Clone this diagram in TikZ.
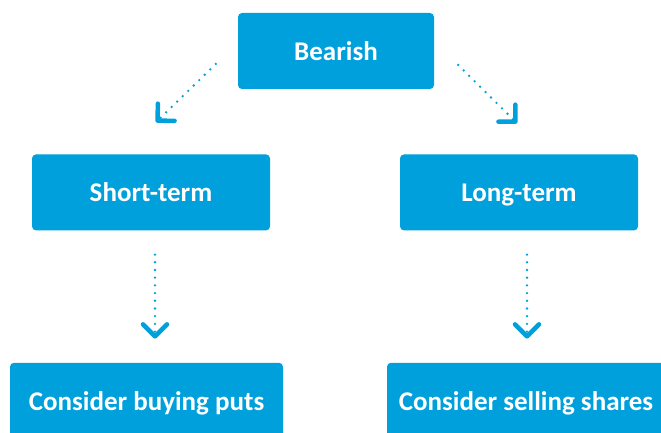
\documentclass[tikz,border=0pt]{standalone}
\usepackage{fontspec}
\setmainfont{Carlito}
\usetikzlibrary{positioning}
\usetikzlibrary{arrows.meta}
\definecolor{boxblue}{RGB}{0,160,220}

\begin{document}
\begin{tikzpicture}[x=1pt, y=1pt,
    BOX/.style={rectangle, rounded corners=4pt, fill=boxblue, text=white, minimum height=76pt, inner sep=0pt, font=\fontsize{27}{32}\selectfont\bfseries, text height=23pt, text depth=4pt},
    LINK/.style={boxblue, line width=2.6pt, line cap=round, dash pattern=on 0pt off 7.7pt, -{Straight Barb[length=12pt, width=24pt, line width=4.5pt, round]}},
    ]
        \useasboundingbox (0,0) rectangle (661,433);
        \node[BOX, minimum width=196pt] (bearish) at (336,382) {Bearish};

        \node[BOX, minimum width=238pt, below=65pt of bearish, xshift=-185pt] (short) {Short-term};
        \node[BOX, minimum width=238pt, below=65pt of bearish, xshift=183pt] (long) {Long-term};

        \node[BOX, minimum width=273pt, below=132pt of short, xshift=-4.5pt] (puts) {Consider buying puts};
        \node[BOX, minimum width=278pt, below=132pt of long, xshift=7pt] (shares) {Consider selling shares};

        \draw[LINK] ([shift={(-22,-13)}]bearish.west) -- ([shift={(5,32)}]short.north);
        \draw[LINK] ([shift={(24,-14)}]bearish.east) -- ([shift={(-2,31)}]long.north);
        \draw[LINK] ([shift={(4,-24)}]short.south) -- ([shift={(8.5,24)}]puts.north);
        \draw[LINK] ([shift={(8,-24)}]long.south) -- ([shift={(1,24)}]shares.north);
    \end{tikzpicture}
\end{document}
